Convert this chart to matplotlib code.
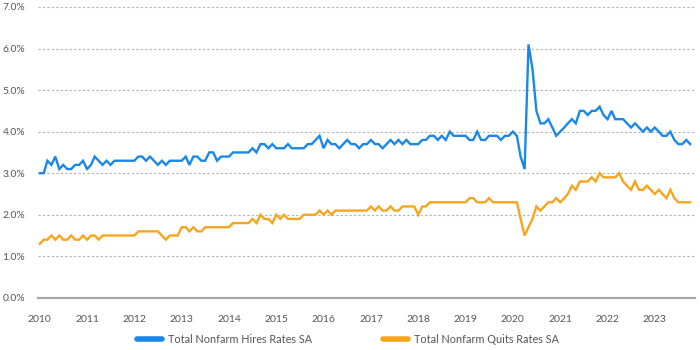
import pandas as pd
import matplotlib
matplotlib.use("Agg")
import matplotlib.pyplot as plt
import matplotlib.dates as mdates
from matplotlib.ticker import FuncFormatter

# monthly JOLTS rates (%), Jan 2010 - Oct 2023
hires_rate = [
    3.0, 3.0, 3.3, 3.2, 3.4, 3.1, 3.2, 3.1, 3.1, 3.2, 3.2, 3.3,  # 2010
    3.1, 3.2, 3.4, 3.3, 3.2, 3.3, 3.2, 3.3, 3.3, 3.3, 3.3, 3.3,  # 2011
    3.3, 3.4, 3.4, 3.3, 3.4, 3.3, 3.2, 3.3, 3.2, 3.3, 3.3, 3.3,  # 2012
    3.3, 3.4, 3.2, 3.4, 3.4, 3.3, 3.3, 3.5, 3.5, 3.3, 3.4, 3.4,  # 2013
    3.4, 3.5, 3.5, 3.5, 3.5, 3.5, 3.6, 3.5, 3.7, 3.7, 3.6, 3.7,  # 2014
    3.6, 3.6, 3.6, 3.7, 3.6, 3.6, 3.6, 3.6, 3.7, 3.7, 3.8, 3.9,  # 2015
    3.6, 3.8, 3.7, 3.7, 3.6, 3.7, 3.8, 3.7, 3.7, 3.6, 3.7, 3.7,  # 2016
    3.8, 3.7, 3.7, 3.6, 3.7, 3.8, 3.7, 3.8, 3.7, 3.8, 3.7, 3.7,  # 2017
    3.7, 3.8, 3.8, 3.9, 3.9, 3.8, 3.9, 3.8, 4.0, 3.9, 3.9, 3.9,  # 2018
    3.9, 3.8, 3.8, 4.0, 3.8, 3.8, 3.9, 3.9, 3.9, 3.8, 3.9, 3.9,  # 2019
    4.0, 3.9, 3.4, 3.1, 6.1, 5.5, 4.5, 4.2, 4.2, 4.3, 4.1, 3.9,  # 2020
    4.0, 4.1, 4.2, 4.3, 4.2, 4.5, 4.5, 4.4, 4.5, 4.5, 4.6, 4.4,  # 2021
    4.3, 4.5, 4.3, 4.3, 4.3, 4.2, 4.1, 4.2, 4.1, 4.0, 4.1, 4.0,  # 2022
    4.1, 4.0, 3.9, 3.9, 4.0, 3.8, 3.7, 3.7, 3.8, 3.7,            # 2023
]

quits_rate = [
    1.3, 1.4, 1.4, 1.5, 1.4, 1.5, 1.4, 1.4, 1.5, 1.4, 1.4, 1.5,  # 2010
    1.4, 1.5, 1.5, 1.4, 1.5, 1.5, 1.5, 1.5, 1.5, 1.5, 1.5, 1.5,  # 2011
    1.5, 1.6, 1.6, 1.6, 1.6, 1.6, 1.6, 1.5, 1.4, 1.5, 1.5, 1.5,  # 2012
    1.7, 1.7, 1.6, 1.7, 1.6, 1.6, 1.7, 1.7, 1.7, 1.7, 1.7, 1.7,  # 2013
    1.7, 1.8, 1.8, 1.8, 1.8, 1.8, 1.9, 1.8, 2.0, 1.9, 1.9, 1.8,  # 2014
    2.0, 1.9, 2.0, 1.9, 1.9, 1.9, 1.9, 2.0, 2.0, 2.0, 2.0, 2.1,  # 2015
    2.0, 2.1, 2.0, 2.1, 2.1, 2.1, 2.1, 2.1, 2.1, 2.1, 2.1, 2.1,  # 2016
    2.2, 2.1, 2.2, 2.1, 2.1, 2.2, 2.1, 2.1, 2.2, 2.2, 2.2, 2.2,  # 2017
    2.0, 2.2, 2.2, 2.3, 2.3, 2.3, 2.3, 2.3, 2.3, 2.3, 2.3, 2.3,  # 2018
    2.3, 2.4, 2.4, 2.3, 2.3, 2.3, 2.4, 2.3, 2.3, 2.3, 2.3, 2.3,  # 2019
    2.3, 2.3, 1.9, 1.5, 1.7, 1.9, 2.2, 2.1, 2.2, 2.3, 2.3, 2.4,  # 2020
    2.3, 2.4, 2.5, 2.7, 2.6, 2.8, 2.8, 2.8, 2.9, 2.8, 3.0, 2.9,  # 2021
    2.9, 2.9, 2.9, 3.0, 2.8, 2.7, 2.6, 2.8, 2.6, 2.6, 2.7, 2.6,  # 2022
    2.5, 2.6, 2.5, 2.4, 2.6, 2.4, 2.3, 2.3, 2.3, 2.3,            # 2023
]

series_labels = ["Total Nonfarm Hires Rates SA", "Total Nonfarm Quits Rates SA"]
series_colors = ["#1a88e8", "#f7a51c"]
years = list(range(2010, 2024))

dates = pd.date_range("2010-01-01", periods=len(hires_rate), freq="MS")

plt.rcParams["font.family"] = ["Lato", "DejaVu Sans"]
fig = plt.figure(figsize=(7, 3.5), dpi=100)
ax = fig.add_axes([0.054, 0.149, 0.939, 0.831])

for vals, lab, col in zip([hires_rate, quits_rate], series_labels, series_colors):
    ax.plot(dates, vals, color=col, lw=1.7, label=lab, solid_joinstyle="miter")

ax.set_ylim(0, 7)
ax.set_yticks([i for i in range(8)])
ax.yaxis.set_major_formatter(FuncFormatter(lambda v, p: f"{v:.1f}%"))
ax.set_xlim(pd.Timestamp("2009-12-17"), pd.Timestamp("2023-11-08"))
ax.set_xticks([pd.Timestamp(f"{y}-01-01") for y in years])
ax.xaxis.set_major_formatter(mdates.DateFormatter("%Y"))

ax.grid(axis="y", color="#b0b0b0", linestyle=(0, (2, 2)), lw=0.8)
ax.set_axisbelow(True)
for s in ["top", "right", "left"]:
    ax.spines[s].set_visible(False)
ax.spines["bottom"].set_color("#a8a8a8")
ax.spines["bottom"].set_linewidth(1.6)
ax.tick_params(axis="both", length=0, labelsize=7.5, labelcolor="#555555")
ax.tick_params(axis="y", pad=9)
ax.tick_params(axis="x", pad=12)

handles, labels = ax.get_legend_handles_labels()
leg = fig.legend(handles, labels, loc="center", bbox_to_anchor=(0.497, 0.03), ncol=2,
                 frameon=False, fontsize=7.8, handlelength=2.3, handletextpad=0.6,
                 columnspacing=6.5)
for line in leg.get_lines():
    line.set_linewidth(4)
    line.set_solid_capstyle("round")
for t in leg.get_texts():
    t.set_color("#555555")

fig.savefig("out.png", dpi=100)
